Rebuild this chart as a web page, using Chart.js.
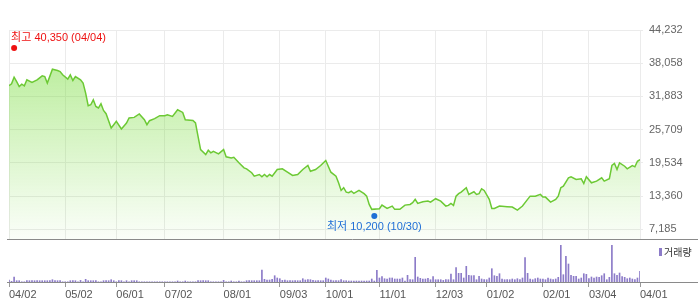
<!DOCTYPE html>
<html lang="ko">
<head>
<meta charset="UTF-8" />
<title>주가 차트</title>
<style>
  body { margin: 0; background: #fff; }
  .wrap { position: relative; width: 698px; height: 307px; }
  #priceChart { position: absolute; left: 0; top: 0; }
  #volumeChart { position: absolute; left: 0; top: 240px; }
</style>
</head>
<body>
<div class="wrap">
  <canvas id="priceChart" width="698" height="240"></canvas>
  <canvas id="volumeChart" width="698" height="67"></canvas>
</div>

<script src="https://cdn.jsdelivr.net/npm/chart.js@4"></script>
<script>
  // x axis is the trading-day index (0 = 04/02)
  const tickDays = [0, 22, 42, 61, 84, 106, 124, 145, 167, 187, 209, 227, 247];
  const tickLabels = ['04/02', '05/02', '06/01', '07/02', '08/01', '09/03', '10/01',
                      '11/01', '12/03', '01/02', '02/01', '03/04', '04/01'];
  const priceTicks = [44232, 38058, 31883, 25709, 19534, 13360, 7185];

  // closing prices
  const priceDays = [0, 1, 2, 3, 4, 5, 6, 7, 9, 11, 13, 14, 15, 17, 19, 20, 21, 23, 24, 25,
    26, 28, 29, 30, 31, 32, 33, 34, 35, 36, 37, 38, 40, 41, 42, 44, 46, 47, 49, 51,
    53, 54, 55, 57, 59, 61, 62, 64, 66, 68, 69, 72, 73, 74, 75, 77, 78, 79, 80, 82,
    84, 85, 87, 88, 90, 92, 93, 95, 96, 98, 99, 100, 101, 102, 103, 105, 107, 109, 111, 113,
    115, 117, 118, 120, 122, 124, 126, 128, 129, 130, 131, 132, 133, 134, 135, 137, 139, 140, 141, 142,
    145, 146, 148, 150, 151, 153, 155, 157, 158, 159, 160, 162, 164, 165, 167, 169, 171, 172, 173, 174,
    175, 176, 177, 179, 180, 182, 183, 184, 185, 186, 188, 189, 190, 192, 195, 197, 199, 201, 203, 204,
    206, 208, 209, 210, 212, 214, 215, 216, 217, 219, 220, 222, 224, 225, 226, 228, 230, 232, 233, 235,
    236, 237, 238, 239, 241, 242, 244, 245, 246, 247];
  const priceValues = [33900, 34230, 35470, 34650, 33730, 34170, 33860, 34970, 34470, 34970, 35710, 35580, 34360, 36950, 36690, 36510, 35900, 35100, 35900, 34840,
    35580, 34970, 34360, 32510, 30150, 30340, 31260, 30020, 29730, 30520, 29280, 28670, 26020, 26630, 27250, 25840, 26950, 27880, 27990, 28620,
    27560, 26630, 27370, 27750, 28300, 28300, 28490, 28170, 29410, 28910, 27560, 27430, 26950, 24470, 22000, 21080, 21870, 21390, 21690, 21210,
    22000, 20650, 20460, 20580, 19540, 18610, 18430, 17690, 17060, 17370, 16950, 17370, 16950, 17370, 17060, 18300, 18430, 17800, 17190, 17370,
    18300, 19040, 17980, 18300, 19040, 19960, 17800, 17060, 15830, 14410, 14910, 14090, 13980, 14280, 13850, 14410, 13800, 13350, 11810, 10890,
    11020, 11680, 11070, 11500, 10890, 10890, 11680, 11810, 12130, 12740, 12000, 12310, 12420, 12240, 12870, 12420, 11500, 11630, 12000, 11630,
    13350, 13800, 14090, 14910, 13670, 14170, 13670, 13800, 14720, 14410, 12740, 11070, 11070, 11500, 11390, 11310, 10760, 11500, 12740, 13350,
    13350, 13670, 13170, 13170, 12240, 12740, 13350, 14910, 15200, 16760, 16950, 16450, 16570, 15700, 16950, 15830, 16130, 16760, 16130, 16570,
    19040, 19410, 18300, 19540, 18910, 18430, 19040, 18800, 19830, 20150];

  // daily volume (천주), one per trading day
  const volumeValues = [
    100, 35, 250, 65, 65, 10, 10, 65, 65, 65,
    65, 65, 65, 65, 65, 65, 65, 115, 65, 65,
    65, 10, 10, 10, 65, 65, 65, 10, 80, 10,
    135, 65, 65, 65, 65, 10, 10, 65, 65, 65,
    115, 65, 10, 65, 65, 10, 65, 10, 65, 65,
    65, 10, 10, 10, 10, 10, 10, 10, 10, 10,
    10, 10, 10, 10, 10, 10, 50, 10, 10, 50,
    10, 10, 10, 10, 65, 65, 65, 65, 65, 10,
    10, 10, 10, 10, 80, 10, 10, 50, 10, 10,
    50, 10, 10, 65, 65, 65, 65, 65, 65, 600,
    135, 100, 100, 135, 315, 200, 165, 80, 100, 65,
    65, 65, 65, 65, 65, 165, 100, 115, 115, 80,
    65, 65, 65, 65, 200, 150, 100, 65, 65, 65,
    115, 65, 65, 50, 50, 50, 50, 50, 50, 50,
    50, 50, 150, 50, 585, 200, 265, 165, 150, 200,
    200, 150, 150, 150, 200, 50, 335, 115, 115, 1235,
    250, 185, 150, 150, 185, 115, 265, 115, 115, 115,
    80, 115, 115, 400, 115, 715, 435, 435, 200, 785,
    335, 315, 315, 115, 285, 150, 115, 115, 200, 665,
    315, 285, 415, 150, 115, 115, 115, 150, 115, 165,
    115, 200, 1215, 435, 150, 115, 165, 200, 150, 150,
    115, 200, 150, 115, 150, 235, 1835, 365, 1285, 900,
    335, 285, 285, 150, 200, 415, 385, 165, 250, 200,
    250, 235, 315, 415, 115, 235, 1835, 415, 335, 450,
    265, 235, 165, 200, 150, 115, 200, 535];

  const highDay = 2, highPrice = 40350, highText = '최고 40,350 (04/04)';
  const lowDay = 143, lowPrice = 10200, lowText = '최저 10,200 (10/30)';

  Chart.defaults.font.family = '"Liberation Sans", Arial, "Noto Sans CJK KR", sans-serif';
  Chart.defaults.font.size = 11;

  const textFont = '11px "Liberation Sans", Arial, "Noto Sans CJK KR", sans-serif';

  // long gray line under each panel, runs past the axis labels
  const separatorLine = {
    id: 'separatorLine',
    afterDraw(chart) {
      const ctx = chart.ctx;
      const y = chart.chartArea.bottom + 0.5;
      ctx.save();
      ctx.strokeStyle = '#8a8a8a';
      ctx.lineWidth = 1;
      ctx.beginPath();
      ctx.moveTo(7, y);
      ctx.lineTo(chart.width, y);
      ctx.stroke();
      ctx.restore();
    }
  };

  // high / low markers with their labels
  const highLowMarks = {
    id: 'highLowMarks',
    afterDatasetsDraw(chart) {
      const { ctx, scales: { x, y } } = chart;
      ctx.save();
      ctx.font = textFont;
      ctx.textBaseline = 'middle';

      const hx = x.getPixelForValue(highDay);
      const hy = y.getPixelForValue(highPrice) - 3;
      ctx.fillStyle = '#ee1111';
      ctx.beginPath();
      ctx.arc(hx, hy, 3, 0, Math.PI * 2);
      ctx.fill();
      ctx.textAlign = 'left';
      ctx.fillText(highText, hx - 3, hy - 10);

      const lx = x.getPixelForValue(lowDay);
      const ly = y.getPixelForValue(lowPrice) + 3;
      ctx.fillStyle = '#1f6fd6';
      ctx.beginPath();
      ctx.arc(lx, ly, 3, 0, Math.PI * 2);
      ctx.fill();
      ctx.textAlign = 'center';
      ctx.fillText(lowText, lx, ly + 11);
      ctx.restore();
    }
  };

  const volumeLegend = {
    id: 'volumeLegend',
    afterDraw(chart) {
      const ctx = chart.ctx;
      ctx.save();
      ctx.fillStyle = '#8c7bc8';
      ctx.fillRect(659, 8, 3, 8);
      ctx.fillStyle = '#333';
      ctx.font = '10px "Noto Sans CJK KR", sans-serif';
      ctx.textBaseline = 'middle';
      ctx.fillText('거래량', 664, 12.5);
      ctx.restore();
    }
  };

  const setTicks = (scale) => {
    scale.ticks = tickDays.map(v => ({ value: v }));
  };

  new Chart(document.getElementById('priceChart'), {
    type: 'line',
    data: {
      datasets: [{
        data: priceDays.map((d, i) => ({ x: d, y: priceValues[i] })),
        borderColor: '#6cc934',
        borderWidth: 1.5,
        pointRadius: 0,
        tension: 0,
        fill: 'start',
        backgroundColor: (context) => {
          const { ctx, chartArea } = context.chart;
          if (!chartArea) return 'rgba(120,220,60,0.3)';
          const g = ctx.createLinearGradient(0, chartArea.top, 0, chartArea.bottom);
          g.addColorStop(0, 'rgba(120,220,60,0.58)');
          g.addColorStop(1, 'rgba(120,220,60,0.03)');
          return g;
        }
      }]
    },
    options: {
      responsive: false,
      animation: false,
      devicePixelRatio: 1,
      layout: { padding: { top: 30, left: 9, bottom: 1, right: 0 } },
      plugins: { legend: { display: false }, tooltip: { enabled: false } },
      scales: {
        x: {
          type: 'linear',
          min: 0,
          max: 247,
          afterBuildTicks: setTicks,
          afterFit: (scale) => { scale.height = 0; },
          ticks: { display: false },
          grid: { color: '#ebebeb', drawTicks: false },
          border: { display: false }
        },
        y: {
          position: 'right',
          min: 5380,
          max: 44232,
          afterBuildTicks: (scale) => { scale.ticks = priceTicks.map(v => ({ value: v })); },
          afterFit: (scale) => {
            scale.width = 58;
            scale.paddingTop = 0;
            scale.paddingBottom = 0;
          },
          ticks: {
            color: '#666',
            padding: 6,
            callback: (v) => v.toLocaleString('en-US')
          },
          grid: { color: '#ebebeb', tickLength: 3 },
          border: { display: false }
        }
      }
    },
    plugins: [separatorLine, highLowMarks]
  });

  new Chart(document.getElementById('volumeChart'), {
    type: 'bar',
    data: {
      datasets: [{
        label: '거래량',
        data: volumeValues.map((v, i) => ({ x: i, y: v })),
        backgroundColor: '#8c7bc8',
        barThickness: 1
      }]
    },
    options: {
      responsive: false,
      animation: false,
      devicePixelRatio: 1,
      layout: { padding: { top: 2, left: 9, right: 58, bottom: 0 } },
      plugins: { legend: { display: false }, tooltip: { enabled: false } },
      scales: {
        x: {
          type: 'linear',
          min: 0,
          max: 247,
          offset: false,
          afterBuildTicks: setTicks,
          afterFit: (scale) => { scale.height = 25; },
          ticks: {
            color: '#555',
            align: 'start',
            padding: 1,
            maxRotation: 0,
            autoSkip: false,
            callback: (v, i) => tickLabels[i]
          },
          grid: { drawOnChartArea: false, offset: false, color: '#999', tickLength: 5 },
          border: { display: false }
        },
        y: {
          display: false,
          min: 0,
          max: 2000
        }
      }
    },
    plugins: [separatorLine, volumeLegend]
  });
</script>
</body>
</html>
